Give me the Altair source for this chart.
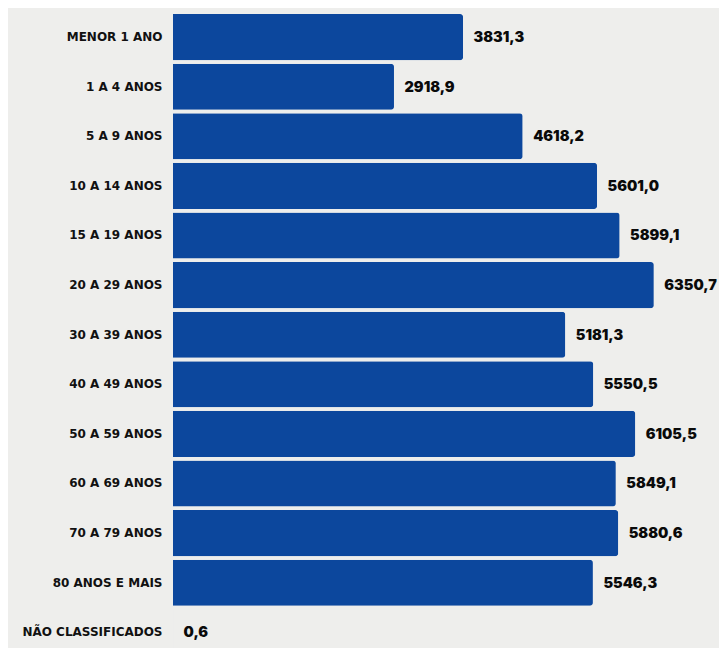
import altair as alt
import pandas as pd

categories = ["MENOR 1 ANO", "1 A 4 ANOS", "5 A 9 ANOS", "10 A 14 ANOS", "15 A 19 ANOS",
              "20 A 29 ANOS", "30 A 39 ANOS", "40 A 49 ANOS", "50 A 59 ANOS", "60 A 69 ANOS",
              "70 A 79 ANOS", "80 ANOS E MAIS", "NÃO CLASSIFICADOS"]
values = [3831.3, 2918.9, 4618.2, 5601.0, 5899.1, 6350.7, 5181.3, 5550.5, 6105.5,
          5849.1, 5880.6, 5546.3, 0.6]

df = pd.DataFrame({
    "cat": categories,
    "val": values,
    "lbl": [f"{v:.1f}".replace(".", ",") for v in values],
})

BLUE = "#0c479d"

y = alt.Y("cat:N", sort=categories, title=None,
          scale=alt.Scale(paddingInner=0.07, paddingOuter=0.035),
          axis=alt.Axis(domain=False, ticks=False, labelPadding=11,
                        labelFont="DejaVu Sans", labelFontSize=12, labelFontWeight="bold",
                        labelColor="#111111"))
x = alt.X("val:Q", scale=alt.Scale(domain=[0, 7040]), axis=None, title=None)

bars = alt.Chart(df).mark_bar(color=BLUE, cornerRadiusTopRight=3,
                              cornerRadiusBottomRight=3).encode(x=x, y=y)
text = alt.Chart(df).mark_text(align="left", baseline="middle", dx=10.5, dy=1,
                               font="Inter", fontSize=14.5, fontWeight=900,
                               color="#0a0a0a").encode(x=x, y=y, text="lbl:N")

chart = (bars + text).properties(
    width=533, height=644.8,
    autosize=alt.AutoSizeParams(type="none"),
    padding={"left": 165, "top": 4.3, "right": 13, "bottom": 0},
    background="#eeeeec",
).configure_view(stroke=None)

chart.save("out.html", embed_options={"renderer": "svg", "actions": False})
